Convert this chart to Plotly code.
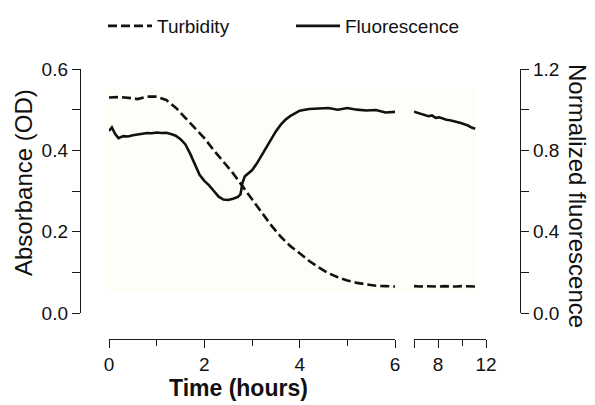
import plotly.graph_objects as go

# ---------------- data ----------------
# Turbidity (absorbance, OD) -- left axis
turb_t1 = [0.0, 0.25, 0.5, 0.6, 0.8, 1.0, 1.2, 1.4, 1.6, 1.8, 2.0, 2.2, 2.4, 2.6, 2.8, 3.0,
           3.2, 3.4, 3.6, 3.8, 4.0, 4.2, 4.4, 4.6, 4.8, 5.0, 5.2, 5.4, 5.6, 5.8, 6.05]
turb_y1 = [0.530, 0.531, 0.528, 0.526, 0.532, 0.532, 0.524, 0.505, 0.480, 0.456, 0.430,
           0.400, 0.372, 0.344, 0.312, 0.280, 0.248, 0.216, 0.188, 0.165, 0.147, 0.128,
           0.112, 0.098, 0.088, 0.080, 0.074, 0.070, 0.067, 0.066, 0.065]
turb_t2 = [6.0, 6.5, 7.0, 7.5, 8.0, 8.5, 9.0, 9.5, 10.0, 10.5, 11.1]
turb_y2 = [0.066, 0.065, 0.066, 0.065, 0.065, 0.066, 0.065, 0.065, 0.066, 0.065, 0.065]

# Fluorescence (normalized) -- right axis
fl_t1 = [0.0, 0.06, 0.13, 0.2, 0.3, 0.4, 0.5, 0.6, 0.7, 0.8, 0.9, 1.0, 1.1, 1.2, 1.3, 1.4,
         1.5, 1.6, 1.7, 1.8, 1.9, 2.0, 2.1, 2.2, 2.3, 2.4, 2.5, 2.6, 2.7, 2.76, 2.8, 2.85,
         3.0, 3.1, 3.2, 3.3, 3.4, 3.5, 3.6, 3.7, 3.8, 3.9, 4.0, 4.2, 4.4, 4.6, 4.8, 5.0,
         5.2, 5.4, 5.6, 5.8, 6.05]
fl_y1 = [0.895, 0.913, 0.880, 0.860, 0.870, 0.868, 0.874, 0.878, 0.880, 0.885, 0.884, 0.888,
         0.885, 0.886, 0.880, 0.872, 0.855, 0.830, 0.785, 0.728, 0.680, 0.650, 0.628, 0.600,
         0.572, 0.558, 0.556, 0.562, 0.570, 0.585, 0.640, 0.672, 0.702, 0.735, 0.775, 0.815,
         0.855, 0.893, 0.925, 0.950, 0.968, 0.982, 0.995, 1.003, 1.005, 1.008, 1.000, 1.008,
         1.000, 0.996, 0.998, 0.986, 0.990]
fl_t2 = [6.0, 6.3, 6.6, 6.9, 7.2, 7.5, 7.8, 8.1, 8.4, 8.7, 9.0, 9.3, 9.6, 9.9, 10.2, 10.5,
         10.8, 11.1]
fl_y2 = [0.990, 0.985, 0.978, 0.975, 0.968, 0.972, 0.960, 0.962, 0.955, 0.950, 0.948, 0.944,
         0.938, 0.934, 0.928, 0.922, 0.912, 0.906]

left_ticks = [0.0, 0.2, 0.4, 0.6]
right_ticks = [0.0, 0.4, 0.8, 1.2]
x1_ticks = [0, 2, 4, 6]
x2_ticks = [6, 8, 12]
x2_ticktext = ["", "8", "12"]

# ---------------- figure ----------------
FONT = "Liberation Sans, Arial, sans-serif"
AX = "#1a1a1a"
DASH = "9px,4px"

fig = go.Figure()
fig.add_trace(go.Scatter(x=turb_t1, y=turb_y1, mode="lines", name="Turbidity",
                         line=dict(color="#111", width=2.6, dash=DASH),
                         xaxis="x", yaxis="y", legend="legend"))
fig.add_trace(go.Scatter(x=turb_t2, y=turb_y2, mode="lines", showlegend=False,
                         line=dict(color="#111", width=2.6, dash=DASH),
                         xaxis="x2", yaxis="y"))
fig.add_trace(go.Scatter(x=fl_t1, y=fl_y1, mode="lines", name="Fluorescence",
                         line=dict(color="#111", width=2.6),
                         xaxis="x", yaxis="y2", legend="legend2"))
fig.add_trace(go.Scatter(x=fl_t2, y=fl_y2, mode="lines", showlegend=False,
                         line=dict(color="#111", width=2.6),
                         xaxis="x2", yaxis="y2"))

common_ax = dict(showgrid=False, zeroline=False, showline=True, linecolor=AX,
                 linewidth=1.4, ticks="outside", ticklen=8, tickwidth=1.4,
                 tickcolor=AX, automargin=False,
                 tickfont=dict(family=FONT, size=19, color="#111"))

ydom = [26 / 270, 1.0]
fig.update_layout(
    width=595, height=405,
    margin=dict(l=80, r=75, t=69, b=66, autoexpand=False),
    paper_bgcolor="white", plot_bgcolor="white",
    font=dict(family=FONT, color="#111"),
    xaxis=dict(domain=[29 / 440, 315 / 440], range=[0, 6], anchor="free", position=0,
               tickvals=x1_ticks,
               minor=dict(dtick=1, ticks="outside", ticklen=6, tickwidth=1.4, tickcolor=AX),
               **common_ax),
    xaxis2=dict(domain=[334 / 440, 406 / 440], range=[6, 12], anchor="free", position=0,
                tickvals=x2_ticks, ticktext=x2_ticktext,
                minor=dict(tickvals=[10], ticks="outside", ticklen=6, tickwidth=1.4, tickcolor=AX),
                **common_ax),
    yaxis=dict(domain=ydom, range=[0, 0.6], anchor="free", position=0,
               tickvals=left_ticks, tickformat=".1f",
               minor=dict(dtick=0.1, ticks="outside", ticklen=8, tickwidth=1.4, tickcolor=AX),
               **common_ax),
    yaxis2=dict(domain=ydom, range=[0, 1.2], anchor="free", position=1, side="right",
                overlaying="y", tickvals=right_ticks, tickformat=".1f",
                minor=dict(dtick=0.2, ticks="outside", ticklen=8, tickwidth=1.4, tickcolor=AX),
                **common_ax),
    legend=dict(orientation="h", x=(103 - 80) / 440, xanchor="left",
                y=(339 - 26) / 270, yanchor="middle", itemwidth=44,
                font=dict(family=FONT, size=19, color="#111"), bgcolor="rgba(0,0,0,0)"),
    legend2=dict(orientation="h", x=(291 - 80) / 440, xanchor="left",
                 y=(339 - 26) / 270, yanchor="middle", itemwidth=44,
                 font=dict(family=FONT, size=19, color="#111"), bgcolor="rgba(0,0,0,0)"),
    showlegend=True,
)

# faint cream background of the scanned plot panel
fig.add_shape(type="rect", xref="paper", yref="paper",
              x0=(106 - 80) / 440, x1=(476 - 80) / 440,
              y0=(339 - 293) / 270, y1=(339 - 88) / 270,
              fillcolor="#fefef9", line=dict(width=0), layer="below")

fig.add_annotation(text="Absorbance (OD)", xref="paper", yref="paper",
                   x=(23 - 80) / 440, y=(339 - 183) / 270, textangle=-90,
                   xanchor="center", yanchor="middle",
                   showarrow=False, font=dict(family=FONT, size=24, color="#111"))
fig.add_annotation(text="Normalized fluorescence", xref="paper", yref="paper",
                   x=(578 - 80) / 440, y=(339 - 196) / 270, textangle=90,
                   xanchor="center", yanchor="middle",
                   showarrow=False, font=dict(family=FONT, size=24, color="#111"))
fig.add_annotation(text="<b>Time (hours)</b>", xref="paper", yref="paper",
                   x=(238 - 80) / 440, y=(339 - 388) / 270,
                   xanchor="center", yanchor="middle",
                   showarrow=False, font=dict(family=FONT, size=23, color="#111"))

fig.write_html("out.html", post_script="document.body.style.margin='0';",
               config={"displayModeBar": False})
